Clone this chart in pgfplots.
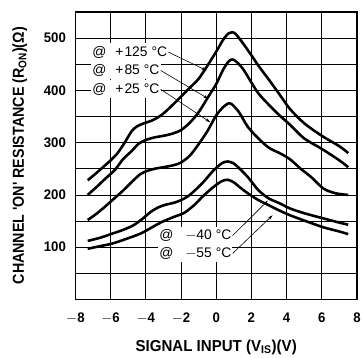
\documentclass[border=0pt]{standalone}
\usepackage{pgfplots}
\pgfplotsset{compat=1.18}
\usetikzlibrary{arrows.meta}
\usepackage{fontspec}
\setmainfont{Liberation Sans}
\newfontfamily\ylabfont{Liberation Sans}[FakeStretch=0.9]
\newfontfamily\xlabfont{Liberation Sans}[FakeStretch=0.95]
\newfontfamily\tickfont{Liberation Sans}[FakeStretch=0.95]
\begin{document}
\begin{tikzpicture}
\begin{axis}[
  scale only axis, width=284pt, height=290pt,
  xmin=-8, xmax=8, ymin=0, ymax=550,
  xtick={-8,-6,...,8},
  ytick={100,200,...,500},
  minor ytick={50,150,...,550},
  grid=both,
  grid style={black, line width=0.7pt},
  minor grid style={black, line width=0.7pt},
  major tick length=0pt, minor tick length=0pt,
  axis line style={line width=1.2pt},
  tick label style={font=\tickfont\fontsize{14}{16}\selectfont\bfseries},
  xticklabel style={yshift=-10pt},
  yticklabel style={xshift=-6pt},
  /pgf/number format/assume math mode=true,
  xticklabels={$-$8,$-$6,$-$4,$-$2,0,2,4,6,8},
  xlabel={\xlabfont\fontsize{16}{18}\selectfont\bfseries SIGNAL INPUT (V\textsubscript{IS})(V)},
  ylabel={\ylabfont\fontsize{16}{18}\selectfont\bfseries CHANNEL 'ON' RESISTANCE (R\textsubscript{ON})(Ω)},
  xlabel style={yshift=-9pt},
  ylabel style={yshift=10pt},
]
\addplot[black, line width=2.6pt, smooth, tension=0.5] coordinates {
(-7.3,228) (-6.8,242) (-6.3,257) (-6,266) (-5.6,280) (-5.2,300) (-4.8,322) (-4.5,331) (-4.1,337) (-3.6,343) (-3.1,353) (-2.6,368) (-2,388) (-1.5,405) (-1,422) (-0.5,447) (0,474) (0.4,497) (0.7,509) (0.9,511) (1.1,508) (1.5,491) (2,467) (2.4,447) (3,420) (3.6,392) (4.2,364) (5,337) (6,313) (7,293) (7.5,280)};
\addplot[black, line width=2.6pt, smooth, tension=0.5] coordinates {
(-7.3,200) (-6.8,215) (-6.3,231) (-5.75,248) (-5.3,268) (-4.8,284) (-4.4,298) (-4,305) (-3.5,310) (-3,313) (-2.5,317) (-2,324) (-1.5,338) (-1,358) (-0.5,385) (0,412) (0.4,440) (0.7,455) (0.9,459) (1.1,456) (1.5,442) (2,415) (2.4,394) (3,372) (3.6,352) (4.2,334) (5,308) (6,288) (7,266) (7.5,253)};
\addplot[black, line width=2.6pt, smooth, tension=0.5] coordinates {
(-7.3,152) (-6.8,164) (-6.3,178) (-5.9,190) (-5.3,208) (-4.7,228) (-4.3,240) (-4,245) (-3.5,250) (-3,253) (-2.4,257) (-2,262) (-1.5,275) (-1,297) (-0.5,322) (0,352) (0.4,368) (0.7,375) (0.9,373) (1.3,358) (1.8,330) (2.4,308) (3,290) (3.6,280) (4.2,268) (4.8,250) (5.4,234) (6.1,212) (6.8,203) (7.5,200)};
\addplot[black, line width=2.6pt, smooth, tension=0.5] coordinates {
(-7.3,112) (-6.6,118) (-5.9,126) (-5.3,133) (-4.7,142) (-4.2,154) (-3.7,168) (-3.3,176) (-2.9,181) (-2.4,185) (-2,190) (-1.5,200) (-0.8,222) (-0.2,245) (0.3,260) (0.65,264) (1,260) (1.4,248) (1.8,234) (2.4,209) (3,193) (3.6,184) (4.2,174) (5,165) (6.1,155) (7,147) (7.5,143)};
\addplot[black, line width=2.6pt, smooth, tension=0.5] coordinates {
(-7.3,97) (-6.6,102) (-5.9,107) (-5.1,116) (-4.3,126) (-3.7,137) (-3.1,148) (-2.4,158) (-1.8,166) (-1.2,182) (-0.8,196) (-0.2,214) (0.3,226) (0.65,229) (1,224) (1.4,213) (1.8,203) (2.4,190) (3,180) (3.6,170) (4.2,161) (5,151) (6.1,138) (7,130) (7.5,125)};
% labels
\tikzset{lab/.style={fill=white, inner xsep=1pt, inner ysep=3pt, font=\fontsize{14}{16}\selectfont, anchor=west}}
\node[lab] (a) at (axis cs:-7.1,473) {@\hspace{9pt}+\kern1pt125\hspace{4pt}°C};
\node[lab] (b) at (axis cs:-7.1,438) {@\hspace{9pt}+\kern1pt85\hspace{4pt}°C};
\node[lab] (c) at (axis cs:-7.1,402) {@\hspace{9pt}+\kern1pt25\hspace{4pt}°C};
\node[lab] (d) at (axis cs:-3.3,122) {@\hspace{12pt}$-$40\hspace{4pt}°C};
\node[lab] (e) at (axis cs:-3.3,88) {@\hspace{12pt}$-$55\hspace{4pt}°C};
\draw[-{Stealth[length=5pt,width=3pt]}, line width=0.6pt] (a.east) -- (axis cs:-0.55,438);
\draw[-{Stealth[length=5pt,width=3pt]}, line width=0.6pt] (b.east) -- (axis cs:-0.45,384);
\draw[-{Stealth[length=5pt,width=3pt]}, line width=0.6pt] (c.east) -- (axis cs:-0.34,339);
\draw[-{Stealth[length=5pt,width=3pt]}, line width=0.6pt] (d.east) -- (axis cs:2.93,189);
\draw[-{Stealth[length=5pt,width=3pt]}, line width=0.6pt] (e.east) -- (axis cs:3.2,161);
\end{axis}
\path (current axis.south west) ++(-76pt,-55pt) rectangle ++(364pt,357pt);
\end{tikzpicture}
\end{document}
